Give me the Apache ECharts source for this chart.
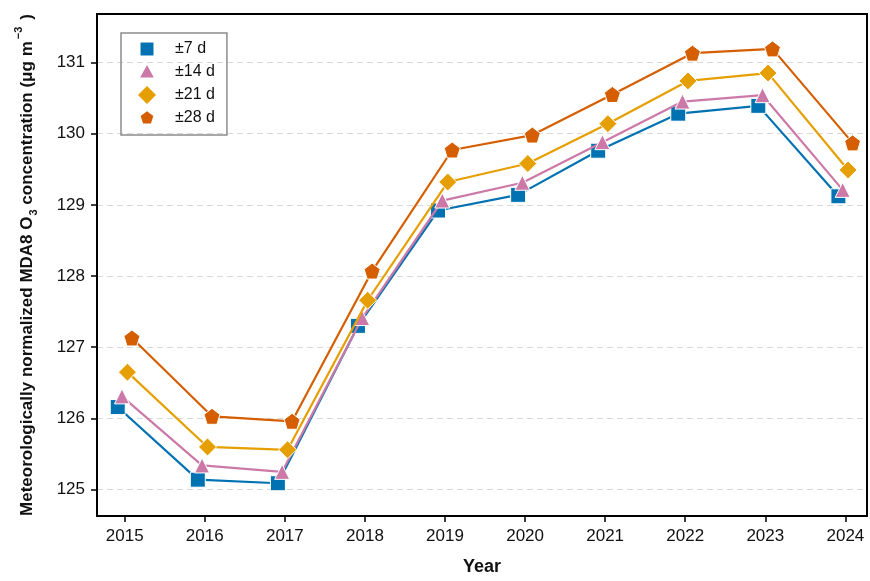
<!DOCTYPE html>
<html>
<head>
<meta charset="utf-8">
<script src="https://cdn.jsdelivr.net/npm/echarts@6/dist/echarts.min.js"></script>
<style>html,body{margin:0;padding:0;background:#fff}#c{width:870px;height:581px}</style>
</head>
<body>
<div id="c"></div>
<script>
const years = [2015, 2016, 2017, 2018, 2019, 2020, 2021, 2022, 2023, 2024];
const seriesNames = ['±7 d', '±14 d', '±21 d', '±28 d'];
const d7  = [126.16, 125.14, 125.09, 127.30, 128.92, 129.14, 129.76, 130.28, 130.39, 129.12];
const d14 = [126.31, 125.34, 125.25, 127.41, 129.06, 129.31, 129.88, 130.45, 130.54, 129.21];
const d21 = [126.65, 125.60, 125.56, 127.66, 129.32, 129.58, 130.14, 130.74, 130.85, 129.49];
const d28 = [127.13, 126.03, 125.96, 128.07, 129.77, 129.98, 130.55, 131.13, 131.19, 129.87];
const yTicks = [125, 126, 127, 128, 129, 130, 131];

const allData = [d7, d14, d21, d28];
const colors = ['#0072B2', '#CC79A7', '#E69F00', '#D55E00'];
const symbols = [
  'rect', 'triangle', 'diamond',
  'path://M0,-1 L0.951,-0.309 L0.588,0.809 L-0.588,0.809 L-0.951,-0.309 Z'
];
// legend icons: a fixed 2x2 frame (lone move-to corners) so each glyph keeps its own size
const frame = 'M-1,-1 M1,1 ';
const legendIcons = [
  'path://' + frame + 'M-0.72,-0.72 L0.72,-0.72 L0.72,0.72 L-0.72,0.72 Z',
  'path://' + frame + 'M0,-0.78 L0.76,0.6 L-0.76,0.6 Z',
  'path://' + frame + 'M0,-1 L1,0 L0,1 L-1,0 Z',
  'path://' + frame + 'M0,-0.74 L0.704,-0.229 L0.435,0.599 L-0.435,0.599 L-0.704,-0.229 Z'
];
const symbolSizes = [15, 15, 18, 16];
const dodge = [-0.087, -0.034, 0.034, 0.09];

const chart = echarts.init(document.getElementById('c'), null, {renderer: 'canvas'});
const series = allData.map((arr, i) => ({
  name: seriesNames[i],
  type: 'line',
  data: arr.map((v, j) => [years[j] + dodge[i], v]),
  symbol: symbols[i],
  symbolSize: symbolSizes[i],
  lineStyle: {color: colors[i], width: 2.2},
  itemStyle: {color: colors[i], borderColor: '#fff', borderWidth: 1},
  z: 2 + i,
  animation: false
}));

chart.setOption({
  animation: false,
  backgroundColor: '#fff',
  textStyle: {fontFamily: 'Liberation Sans, Arial, sans-serif'},
  grid: {left: 97, right: 3, top: 14, bottom: 64, show: true, borderColor: '#000', borderWidth: 2, containLabel: false},
  legend: {
    left: 121, top: 33,
    orient: 'vertical',
    data: seriesNames.map((n, i) => ({name: n, icon: legendIcons[i], itemStyle: {borderWidth: 0}})),
    itemWidth: 18, itemHeight: 18, itemGap: 5,
    padding: [7, 12, 8, 17],
    borderColor: '#8c8c8c', borderWidth: 1.5, borderRadius: 0,
    textStyle: {fontSize: 16, color: '#111', padding: [0, 0, 0, 14], fontFamily: 'Liberation Sans, Arial, sans-serif'}
  },
  xAxis: {
    type: 'value',
    min: 2014.654, max: 2024.27,
    splitNumber: 10,
    axisLine: {show: true, lineStyle: {color: '#000', width: 2}},
    axisTick: {show: true, length: 6, lineStyle: {color: '#000', width: 1.5}, customValues: years},
    axisLabel: {fontSize: 17, color: '#111', margin: 12, customValues: years, formatter: v => String(v)},
    splitLine: {show: false},
    name: 'Year', nameLocation: 'middle', nameGap: 42,
    nameTextStyle: {fontSize: 18, fontWeight: 'bold', color: '#111'}
  },
  yAxis: {
    type: 'value',
    min: 124.63, max: 131.68,
    axisLine: {show: true, lineStyle: {color: '#000', width: 2}},
    axisTick: {show: true, length: 6, lineStyle: {color: '#000', width: 1.5}, customValues: yTicks},
    axisLabel: {fontSize: 17, color: '#111', margin: 12, customValues: yTicks, formatter: v => String(v)},
    splitLine: {show: true, lineStyle: {color: '#d9d9d9', type: [6, 4], width: 1}, customValues: yTicks},
    name: '{b|Meteorologically normalized MDA8 O}{sub|3}{b| concentration (μg m}{sup|−3}{b|)}',
    nameLocation: 'middle', nameGap: 56, nameRotate: 90,
    nameTextStyle: {
      rich: {
        b: {fontSize: 17, fontWeight: 'bold', color: '#111', lineHeight: 28, verticalAlign: 'middle'},
        sub: {fontSize: 11, fontWeight: 'bold', color: '#111', lineHeight: 28, verticalAlign: 'bottom', padding: [0, 0, 2, 1]},
        sup: {fontSize: 11, fontWeight: 'bold', color: '#111', lineHeight: 28, verticalAlign: 'top', padding: [0, 7, 0, 2]}
      }
    }
  },
  series: series
});
</script>
</body>
</html>
